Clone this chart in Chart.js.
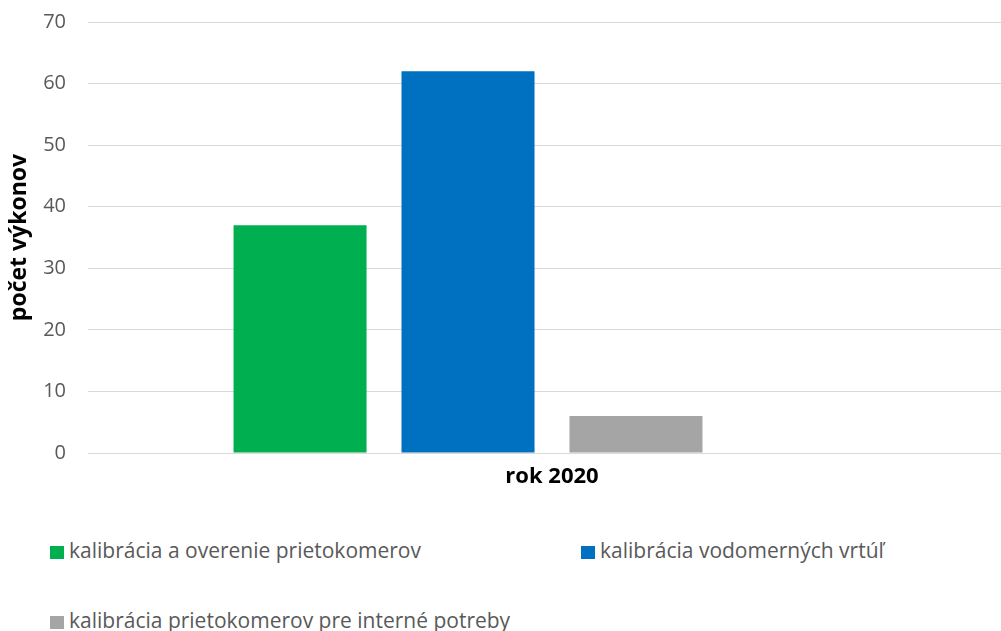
<!DOCTYPE html>
<html>
<head>
<meta charset="utf-8">
<script src="https://cdn.jsdelivr.net/npm/chart.js@4.4.1/dist/chart.umd.min.js"></script>
<style>
  html, body { margin: 0; padding: 0; background: #fff; overflow: hidden; width: 1001px; height: 631px; }
  #wrap { position: absolute; left: 0; top: -12px; width: 1016px; height: 512px; }
  .lg { position: absolute; font-family: 'Open Sans', sans-serif; font-size: 21px; color: #595959; white-space: nowrap; line-height: 24px; }
  .lg i { display: inline-block; width: 14px; height: 13px; margin-right: 5px; vertical-align: -1px; }
</style>
</head>
<body>
<div id="wrap"><canvas id="chart"></canvas></div>
<div id="legend"></div>
<script>
(function () {
    'use strict';

    var categories = ['rok 2020'];
    var seriesNames = [
        'kalibrácia a overenie prietokomerov',
        'kalibrácia vodomerných vrtúľ',
        'kalibrácia prietokomerov pre interné potreby',
        ''
    ];
    var seriesValues = [[37], [62], [6], [null]];
    var seriesColors = ['#00b050', '#0070c0', '#a5a5a5', '#ffffff'];
    var yTicks = [0, 10, 20, 30, 40, 50, 60, 70];
    var legendSpots = [[50, 538], [581, 538], [50, 608]];

    var datasets = seriesNames.map(function (name, i) {
        return {
            label: name,
            data: seriesValues[i],
            backgroundColor: seriesColors[i],
            borderWidth: 0,
            categoryPercentage: 0.724,
            barPercentage: 0.792
        };
    });

    new Chart(document.getElementById('chart'), {
        type: 'bar',
        data: { labels: categories, datasets: datasets },
        options: {
            responsive: true,
            maintainAspectRatio: false,
            animation: false,
            layout: { padding: { top: 0, right: 0, bottom: 0, left: 0 } },
            plugins: { legend: { display: false }, tooltip: { enabled: false } },
            scales: {
                x: {
                    grid: { display: false },
                    border: { display: false },
                    ticks: { color: '#000', padding: 3, font: { family: 'Open Sans', size: 22, weight: 'bold' } },
                    afterFit: function (axis) { axis.height = 47; }
                },
                y: {
                    min: 0,
                    max: 70,
                    afterBuildTicks: function (axis) { axis.ticks = yTicks.map(function (v) { return { value: v }; }); },
                    grid: { color: '#d9d9d9', lineWidth: 1, drawTicks: false },
                    border: { display: false },
                    ticks: { color: '#595959', padding: 22, font: { family: 'Open Sans', size: 20 } },
                    title: { display: true, text: 'počet výkonov', color: '#000', padding: { top: 6, bottom: 0 }, font: { family: 'Open Sans', size: 23, weight: 'bold' } },
                    afterFit: function (axis) { axis.width = 88; }
                }
            }
        }
    });

    var legend = document.getElementById('legend');
    legendSpots.forEach(function (spot, i) {
        var d = document.createElement('div');
        d.className = 'lg';
        d.style.left = spot[0] + 'px';
        d.style.top = spot[1] + 'px';
        d.innerHTML = '<i style="background:' + seriesColors[i] + '"></i>' + seriesNames[i];
        legend.appendChild(d);
    });
})();
</script>
</body>
</html>
